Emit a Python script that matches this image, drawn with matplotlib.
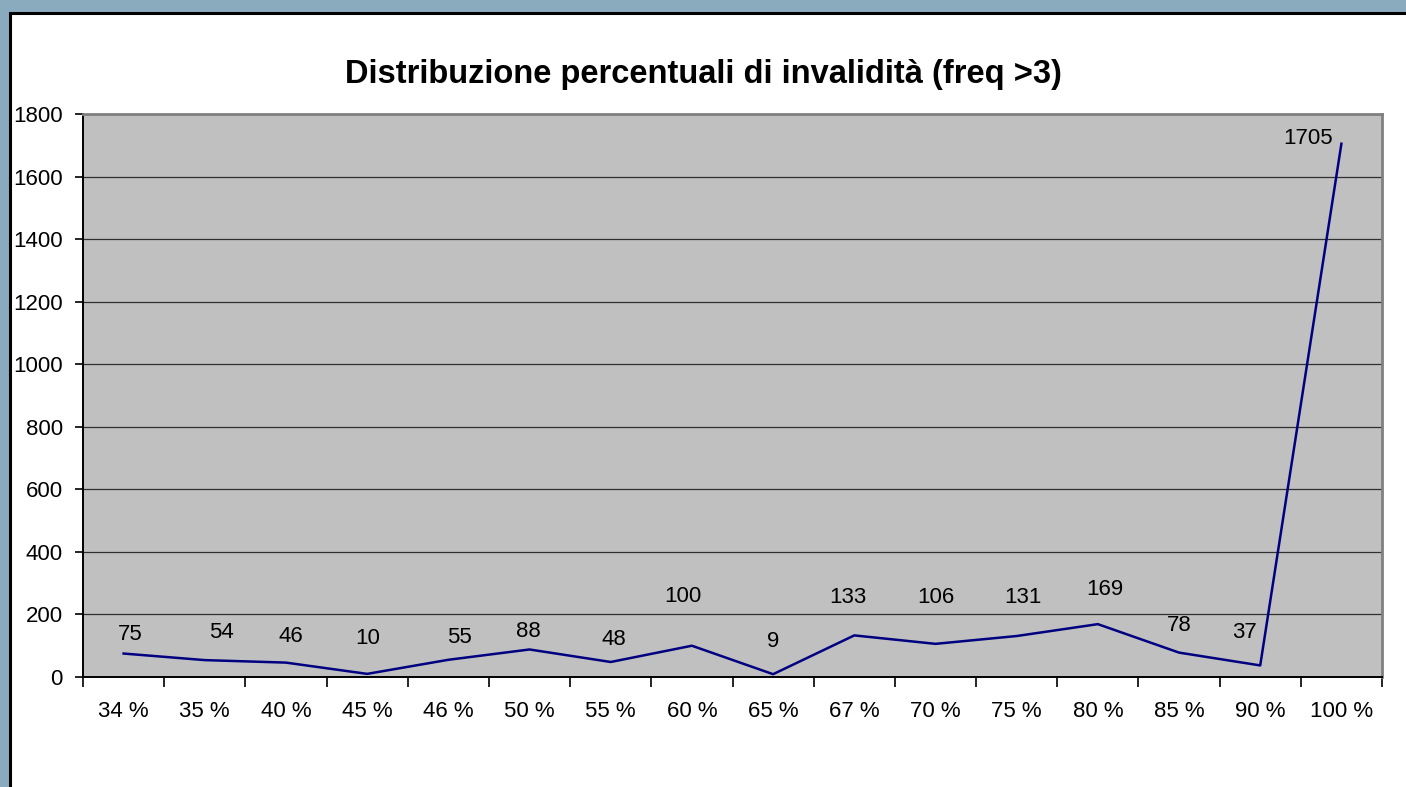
import matplotlib
matplotlib.use("Agg")
import matplotlib.pyplot as plt
from matplotlib.patches import Rectangle
from matplotlib.ticker import FixedLocator, NullFormatter

categories = ["34 %", "35 %", "40 %", "45 %", "46 %", "50 %", "55 %", "60 %",
              "65 %", "67 %", "70 %", "75 %", "80 %", "85 %", "90 %", "100 %"]
values = [75, 54, 46, 10, 55, 88, 48, 100, 9, 133, 106, 131, 169, 78, 37, 1705]
y_ticks = [0, 200, 400, 600, 800, 1000, 1200, 1400, 1600, 1800]
title = "Distribuzione percentuali di invalidità (freq >3)"

# label offsets in pixels (style only)
label_dx = [7, 17, 5, 1, 11, -1, 3, -9, 0, -6, 0, 6, 7, 0, -16, -33]
label_dy = [19, 28, 26, 35, 22, 18, 22, 49, 33, 38, 46, 39, 35, 27, 33, 5]

plt.rcParams['font.family'] = ['Liberation Sans', 'DejaVu Sans']

W, H = 1406, 787
fig = plt.figure(figsize=(W / 100, H / 100), dpi=100)
fig.patch.set_facecolor('#8aaabd')
fig.patches.append(Rectangle((9.5 / W, -0.1), 1.2, (H - 12.5) / H + 0.1,
                             transform=fig.transFigure, facecolor='white',
                             edgecolor='black', linewidth=2.2, zorder=-5))

ax = fig.add_axes([83 / W, 1 - 677 / H, (1382 - 83) / W, (677 - 114) / H])
ax.set_zorder(2)
ax.set_facecolor('#c0c0c0')

x = list(range(len(categories)))
ax.plot(x, values, color='#000080', linewidth=1.8, zorder=3)

for xi, v, dx, dy in zip(x, values, label_dx, label_dy):
    ax.annotate(str(v), (xi, v), xytext=(dx, dy), textcoords='offset pixels',
                ha='center', va='center', fontsize=16, color='black', zorder=4)

ax.set_xlim(-0.5, len(categories) - 0.5)
ax.set_ylim(0, 1800)
ax.set_yticks(y_ticks)
ax.set_yticklabels([str(t) for t in y_ticks])
ax.yaxis.grid(True, color='#303030', linewidth=0.9)
ax.set_axisbelow(True)

ax.set_xticks(x)
ax.set_xticklabels(categories)
ax.xaxis.set_minor_locator(FixedLocator([i - 0.5 for i in range(len(categories) + 1)]))
ax.xaxis.set_minor_formatter(NullFormatter())
ax.tick_params(axis='x', which='major', length=0, pad=17, labelsize=16)
ax.tick_params(axis='x', which='minor', length=7, width=1.2, color='black', direction='out')
ax.tick_params(axis='y', which='major', length=6, width=1.2, color='black', pad=8.5, labelsize=16)

for s in ['left', 'bottom']:
    ax.spines[s].set_color('black')
    ax.spines[s].set_linewidth(1.4)
for s in ['right', 'top']:
    ax.spines[s].set_color('#808080')
    ax.spines[s].set_linewidth(2)

fig.text(703 / W, 1 - 75 / H, title, ha='center', va='center',
         fontsize=23.5, fontweight='bold', color='black')

fig.savefig('out.png', dpi=100, facecolor=fig.get_facecolor())
